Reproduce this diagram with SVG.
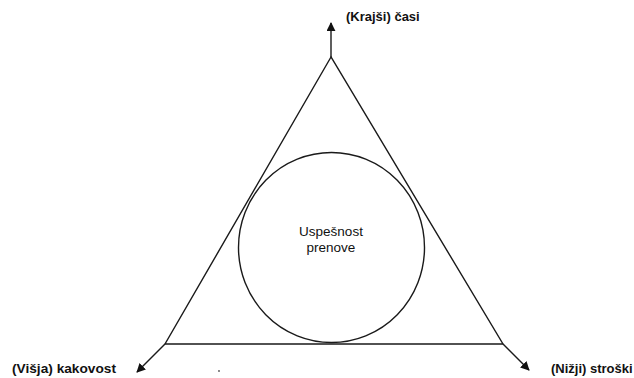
<svg xmlns="http://www.w3.org/2000/svg" width="634" height="378" viewBox="0 0 634 378">
<style>
.ln{stroke:#1a1a1a;stroke-width:1.4;fill:none}
.lbl{font-family:"Liberation Sans",Arial,sans-serif;font-size:13px;font-weight:bold;fill:#111}
.ctr{font-family:"Liberation Sans",Arial,sans-serif;font-size:13.5px;fill:#111;text-anchor:middle}
</style>
<defs>
<marker id="ah" viewBox="0 0 10 10" refX="9" refY="5" markerWidth="9" markerHeight="9" markerUnits="userSpaceOnUse" orient="auto">
<path d="M0,0 L10,5 L0,10 Z" fill="#111"/>
</marker>
</defs>
<rect width="634" height="378" fill="#fff"/>
<g id="triangle">
<polygon class="ln" points="331,57 165,344 503,344"/>
</g>
<g id="center">
<ellipse class="ln" cx="331.5" cy="247.5" rx="93" ry="95"/>
<text class="ctr" x="331" y="236">Uspešnost</text>
<text class="ctr" x="331" y="252">prenove</text>
</g>
<g id="connectors">
<line class="ln" x1="331" y1="57" x2="331" y2="23" marker-end="url(#ah)"/>
<line class="ln" x1="165" y1="344" x2="137" y2="372" marker-end="url(#ah)"/>
<line class="ln" x1="503" y1="344" x2="529" y2="370" marker-end="url(#ah)"/>
</g>
<g id="time"><text class="lbl" x="346" y="21">(Krajši) časi</text></g>
<g id="quality"><text class="lbl" x="12" y="373" textLength="104" lengthAdjust="spacingAndGlyphs">(Višja) kakovost</text></g>
<g id="cost"><text class="lbl" x="551" y="373">(Nižji) stroški</text></g>
<circle cx="219" cy="371" r="0.9" fill="#555"/>
</svg>
